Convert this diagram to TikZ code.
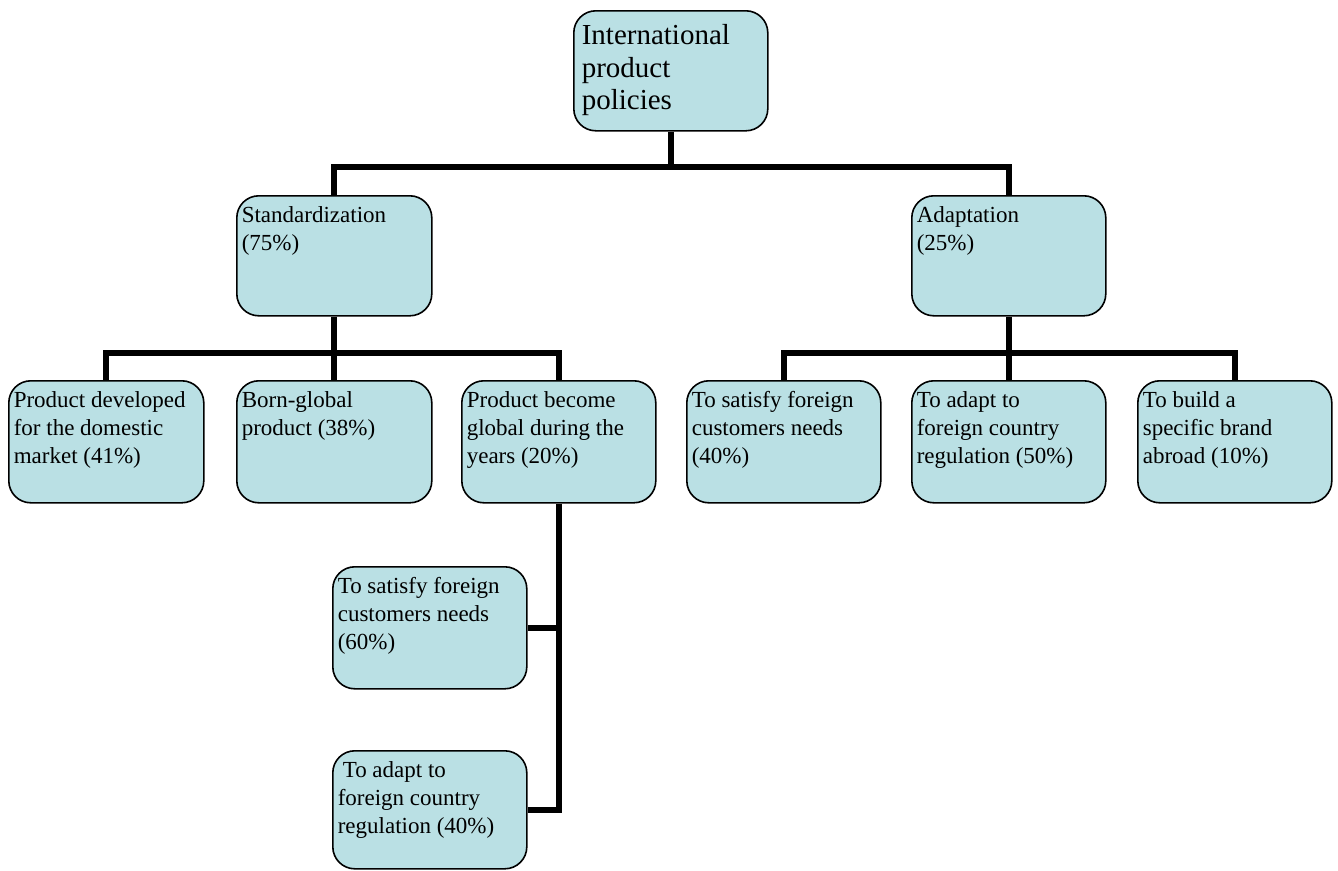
\documentclass[tikz,border=0pt]{standalone}
\usepackage{fontspec}
\setmainfont{Liberation Serif}
\definecolor{boxfill}{RGB}{186,224,228}
\tikzset{
  box/.style={draw=black, fill=boxfill, rounded corners=22pt, line width=1.6pt,
    inner xsep=5pt, inner ysep=0pt, anchor=north west, font=\fontsize{23}{28}\selectfont},
  topbox/.style={box, font=\fontsize{29}{32.5}\selectfont, inner xsep=8pt},
  conn/.style={line width=6pt, line cap=butt, line join=miter}
}
\newcommand{\tb}[4][27pt]{\parbox[c][#3][t]{#2}{\raggedright\rule{0pt}{#1}#4}}
\begin{document}
\begin{tikzpicture}[x=1pt,y=-1pt]
\useasboundingbox (0,0) rectangle (1338,870);
% nodes
\node[topbox] (top) at (573,10) {\tb[34pt]{178pt}{120pt}{International\\product\\policies}};
\node[box] (std) at (236,195) {\tb{185pt}{120pt}{Standardization\\(75\%)}};
\node[box] (ada) at (911,195) {\tb{184pt}{120pt}{Adaptation\\(25\%)}};
\node[box] (l1) at (8,380) {\tb{185pt}{122pt}{Product developed\\for the domestic\\market (41\%)}};
\node[box] (l2) at (236,380) {\tb{185pt}{122pt}{Born-global\\product (38\%)}};
\node[box] (l3) at (461,380) {\tb{184pt}{122pt}{Product become\\global during the\\years (20\%)}};
\node[box] (r1) at (686,380) {\tb{184pt}{122pt}{To satisfy foreign\\customers needs\\(40\%)}};
\node[box] (r2) at (911,380) {\tb{184pt}{122pt}{To adapt to\\foreign country\\regulation (50\%)}};
\node[box] (r3) at (1137,380) {\tb{184pt}{122pt}{To build a\\specific brand\\abroad (10\%)}};
\node[box] (s1) at (332,566) {\tb{184pt}{122pt}{To satisfy foreign\\customers needs\\(60\%)}};
\node[box] (s2) at (332,750) {\tb{184pt}{118pt}{\hspace{5pt}To adapt to\\foreign country\\regulation (40\%)}};
% junctions
\coordinate (j1) at (top.south |- 0,167);
\coordinate (j2) at (std.south |- 0,353);
\coordinate (j3) at (ada.south |- 0,353);
% connectors
\draw[conn] (top.south) -- (j1);
\draw[conn] (j1) -| (std.north);
\draw[conn] (j1) -| (ada.north);
\draw[conn] (std.south) -- (j2);
\draw[conn] (j2) -| (l1.north);
\draw[conn] (j2) -| (l2.north);
\draw[conn] (j2) -| (l3.north);
\draw[conn] (ada.south) -- (j3);
\draw[conn] (j3) -| (r1.north);
\draw[conn] (j3) -| (r2.north);
\draw[conn] (j3) -| (r3.north);
\draw[conn] (l3.south) |- (s2.east);
\draw[conn] (s1.east) -- (s1.east -| l3.south);
\end{tikzpicture}
\end{document}
